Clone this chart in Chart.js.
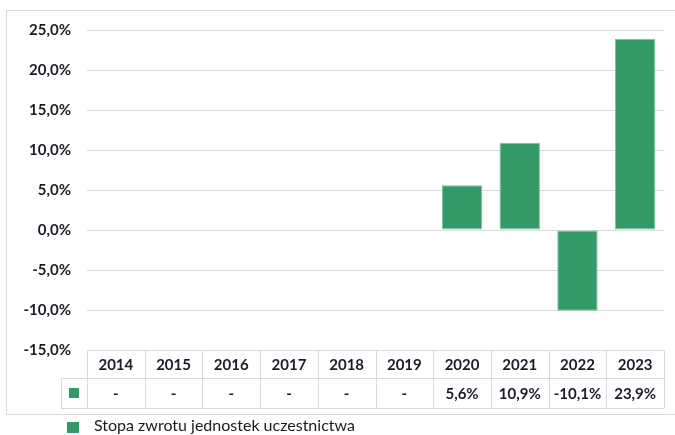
<!DOCTYPE html>
<html>
<head>
<meta charset="utf-8">
<script src="https://cdn.jsdelivr.net/npm/chart.js@4/dist/chart.umd.min.js"></script>
<style>
  html, body { margin: 0; padding: 0; background: #fff; }
  #wrap { width: 675px; height: 435px; position: relative; }
</style>
</head>
<body>
<div id="wrap"><canvas id="returnChart"></canvas></div>
<script>
// data
var years = ['2014', '2015', '2016', '2017', '2018', '2019', '2020', '2021', '2022', '2023'];
var returns = [null, null, null, null, null, null, 5.6, 10.9, -10.1, 23.9];
var yTicks = [-15, -10, -5, 0, 5, 10, 15, 20, 25];
var seriesLabel = 'Stopa zwrotu jednostek uczestnictwa';

var green = '#339966';
var fontFamily = 'Lato, "Open Sans", sans-serif';

function pct(v) {
  return v.toFixed(1).replace('.', ',') + '%';
}

// draws the outer frame, the data table under the plot and the legend
var tablePlugin = {
  id: 'dataTable',
  afterDraw: function (chart) {
    var ctx = chart.ctx;
    var xs = chart.scales.x;
    var area = chart.chartArea;
    var n = years.length;
    var colW = (area.right - area.left) / n;
    var top = Math.round(area.bottom) + 0.5;
    var mid = top + 28;
    var bot = top + 58;
    var keyLeft = 61.5;

    ctx.save();
    ctx.strokeStyle = '#d9d9d9';
    ctx.lineWidth = 1;

    // outer frame
    ctx.strokeRect(6.5, 10.5, 700, 404);

    // table lines
    ctx.beginPath();
    ctx.moveTo(area.left, mid); ctx.lineTo(area.right, mid);
    ctx.moveTo(keyLeft, mid); ctx.lineTo(area.left, mid);
    ctx.moveTo(keyLeft, bot); ctx.lineTo(area.right, bot);
    ctx.moveTo(keyLeft, mid); ctx.lineTo(keyLeft, bot);
    for (var i = 0; i <= n; i++) {
      var x = Math.round(area.left + i * colW) + 0.5;
      ctx.moveTo(x, top); ctx.lineTo(x, bot);
    }
    ctx.stroke();

    // table text
    ctx.fillStyle = '#1b1b2a';
    ctx.font = 'bold 15px ' + fontFamily;
    ctx.textAlign = 'center';
    ctx.textBaseline = 'middle';
    for (var j = 0; j < n; j++) {
      var cx = xs.getPixelForValue(j);
      ctx.fillText(years[j], cx, (top + mid) / 2 + 1);
      var v = returns[j];
      ctx.fillText(v === null ? '-' : pct(v), cx, (mid + bot) / 2 + 1);
    }

    // key inside the table
    ctx.fillStyle = green;
    ctx.fillRect(69, 388, 10, 10);

    // legend under the frame
    ctx.fillRect(67, 422, 12, 11);
    ctx.fillStyle = '#1b1b1b';
    ctx.font = '16px ' + fontFamily;
    ctx.textAlign = 'left';
    ctx.fillText(seriesLabel, 94, 426);
    ctx.restore();
  }
};

var ctx = document.getElementById('returnChart').getContext('2d');
var chart = new Chart(ctx, {
  type: 'bar',
  data: {
    labels: years,
    datasets: [{
      label: seriesLabel,
      data: returns,
      backgroundColor: green,
      borderColor: '#7cc49c',
      borderWidth: 1,
      borderSkipped: false,
      barPercentage: 0.7,
      categoryPercentage: 1
    }]
  },
  plugins: [tablePlugin],
  options: {
    responsive: true,
    maintainAspectRatio: false,
    animation: false,
    layout: { padding: { left: 0, top: 30, right: 11, bottom: 85 } },
    plugins: {
      legend: { display: false },
      tooltip: { enabled: false }
    },
    scales: {
      x: {
        display: false,
        grid: { display: false }
      },
      y: {
        min: -15,
        max: 25,
        afterBuildTicks: function (scale) {
          scale.ticks = yTicks.map(function (v) { return { value: v }; });
        },
        afterFit: function (scale) { scale.width = 87; },
        border: { display: false },
        grid: { color: '#d9d9d9', lineWidth: 1, drawTicks: false },
        ticks: {
          padding: 16,
          color: '#1b1b2a',
          font: { family: fontFamily, size: 15, weight: 'bold' },
          callback: function (value) { return pct(value); }
        }
      }
    }
  }
});
</script>
</body>
</html>
